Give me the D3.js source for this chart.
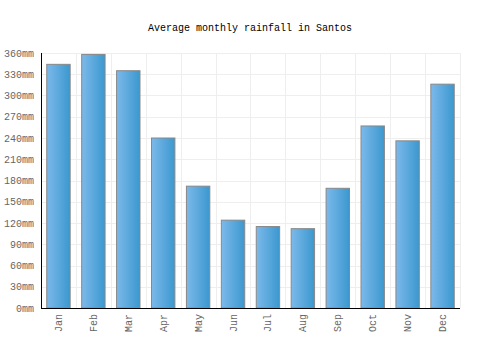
<!DOCTYPE html>
<html>
<head>
<meta charset="utf-8">
<script src="https://cdn.jsdelivr.net/npm/d3@7"></script>
<style>
  body { margin: 0; background: #fff; }
  text { font-family: "Liberation Mono", "DejaVu Sans Mono", monospace; }
</style>
</head>
<body>
<svg id="chart" width="500" height="350"></svg>
<script>
// data
const months = ["Jan", "Feb", "Mar", "Apr", "May", "Jun", "Jul", "Aug", "Sep", "Oct", "Nov", "Dec"];
const rainfall = [344, 358, 335, 240, 172, 124, 115, 112, 169, 257, 236, 316];
const yTicks = [0, 30, 60, 90, 120, 150, 180, 210, 240, 270, 300, 330, 360];

const svg = d3.select("#chart");
const margin = {top: 53, right: 40, bottom: 42, left: 41};
const width = 500 - margin.left - margin.right;
const height = 350 - margin.top - margin.bottom;
const font = "Liberation Mono, DejaVu Sans Mono, monospace";

// gradient for the bars
const grad = svg.append("defs").append("linearGradient")
  .attr("id", "barGrad")
  .attr("x1", "0%").attr("x2", "100%").attr("y1", "0%").attr("y2", "0%");
grad.append("stop").attr("offset", "0%").attr("stop-color", "#7cb9ea");
grad.append("stop").attr("offset", "100%").attr("stop-color", "#3b98cf");

svg.append("text")
  .attr("x", 250)
  .attr("y", 31)
  .attr("text-anchor", "middle")
  .style("font-size", "10px")
  .style("fill", "#000")
  .style("font-family", font)
  .text("Average monthly rainfall in Santos");

const g = svg.append("g").attr("transform", `translate(${margin.left},${margin.top})`);

const x = d3.scaleBand().domain(months).range([0, width]).paddingInner(0.33).paddingOuter(0.165);
const xGrid = d3.scaleBand().domain(months).range([0, width]);
const y = d3.scaleLinear().domain([0, 360]).range([height, 0]);

// grid
g.append("g").selectAll("line.h")
  .data(yTicks)
  .enter().append("line")
  .attr("x1", 0).attr("x2", width)
  .attr("y1", d => Math.round(y(d)) + 0.5).attr("y2", d => Math.round(y(d)) + 0.5)
  .style("stroke", "#eeeeee");

g.append("g").selectAll("line.v")
  .data(months)
  .enter().append("line")
  .attr("x1", d => Math.round(xGrid(d) + xGrid.bandwidth()) + 0.5)
  .attr("x2", d => Math.round(xGrid(d) + xGrid.bandwidth()) + 0.5)
  .attr("y1", 0).attr("y2", height)
  .style("stroke", "#eeeeee");

// bars
g.append("g").selectAll("rect")
  .data(rainfall)
  .enter().append("rect")
  .attr("x", (d, i) => x(months[i]))
  .attr("y", d => y(d))
  .attr("width", x.bandwidth())
  .attr("height", d => height - y(d))
  .style("fill", "url(#barGrad)")
  .style("stroke", "#888")
  .style("stroke-width", 1);

// axes
const yAxis = g.append("g")
  .call(d3.axisLeft(y).tickValues(yTicks).tickSize(0).tickPadding(7).tickFormat(d => d + "mm"));
yAxis.select(".domain").remove();
yAxis.selectAll("text").style("font-size", "10px").style("fill", "#666").style("font-family", font);

const xAxis = g.append("g")
  .attr("transform", `translate(0,${height})`)
  .call(d3.axisBottom(x).tickSize(0));
xAxis.select(".domain").remove();
xAxis.selectAll("text")
  .style("font-size", "10px")
  .style("fill", "#666")
  .style("font-family", font)
  .attr("text-anchor", "end")
  .attr("transform", "rotate(-90)")
  .attr("x", -6)
  .attr("y", 0)
  .attr("dy", "0.35em");

g.append("line")
  .attr("x1", 0.5).attr("x2", 0.5).attr("y1", 0).attr("y2", height + 1)
  .style("stroke", "#000");
g.append("line")
  .attr("x1", 0).attr("x2", width).attr("y1", height + 0.5).attr("y2", height + 0.5)
  .style("stroke", "#000");
</script>
</body>
</html>
